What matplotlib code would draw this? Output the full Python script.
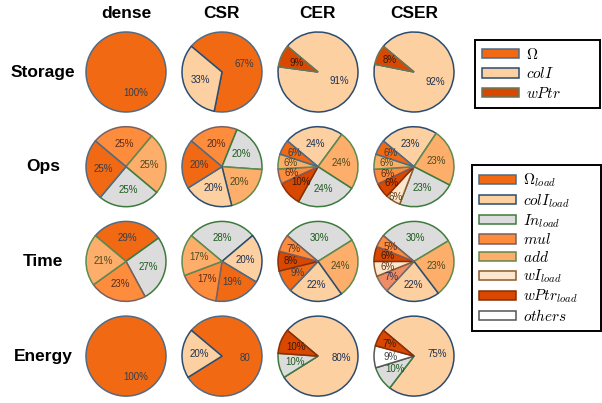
import numpy as np
import matplotlib
matplotlib.use('Agg')
import matplotlib.pyplot as plt
from matplotlib.patches import Patch

plt.rcParams['mathtext.fontset'] = 'cm'
plt.rcParams['font.family'] = ['Liberation Sans', 'DejaVu Sans']

cols = ['dense', 'CSR', 'CER', 'CSER']
rows = ['Storage', 'Ops', 'Time', 'Energy']

# slices listed clockwise from the start angle
storage_cats = {'dense': ['omega'], 'CSR': ['omega', 'colI'],
                'CER': ['colI', 'wPtr'], 'CSER': ['colI', 'wPtr']}
storage_vals = {'dense': [100], 'CSR': [67, 33], 'CER': [91, 9], 'CSER': [92, 8]}

ops_cats = {'dense': ['mul', 'add', 'In', 'omega'],
            'CSR': ['mul', 'In', 'add', 'colI', 'omega'],
            'CER': ['colI', 'add', 'In', 'wPtrL', 'mul', 'add', 'omega'],
            'CSER': ['colI', 'add', 'In', 'wI', 'wPtrL', 'mul', 'add', 'omega']}
ops_vals = {'dense': [25, 25, 25, 25],
            'CSR': [20, 20, 20, 20, 20],
            'CER': [24, 24, 24, 10, 6, 6, 6],
            'CSER': [23, 23, 23, 6, 6, 6, 6, 6]}

time_cats = {'dense': ['omega', 'In', 'mul', 'add'],
             'CSR': ['In', 'colI', 'omega', 'mul', 'add'],
             'CER': ['In', 'add', 'colI', 'omega', 'wPtrL', 'mul'],
             'CSER': ['In', 'add', 'colI', 'extra', 'wI', 'wPtrL', 'mul']}
time_vals = {'dense': [29, 27, 23, 21],
             'CSR': [28, 20, 19, 17, 17],
             'CER': [30, 24, 22, 9, 8, 7],
             'CSER': [30, 23, 22, 7, 6, 6, 5]}

energy_cats = {'dense': ['omega'], 'CSR': ['omega', 'colI'],
               'CER': ['colI', 'In', 'wPtrL'],
               'CSER': ['colI', 'In', 'others', 'wPtrL']}
energy_vals = {'dense': [100], 'CSR': [80, 20], 'CER': [80, 10, 10],
               'CSER': [75, 10, 9, 7]}
energy_text = {'CSR': ['80', '20%']}

all_cats = [storage_cats, ops_cats, time_cats, energy_cats]
all_vals = [storage_vals, ops_vals, time_vals, energy_vals]
all_text = [{}, {}, {}, energy_text]

# label radius tweaks for crowded slices (row, col) -> {slice index: radius}
label_r = {(1, 'CSER'): {3: 0.88}}

fill = {'omega': '#F16913', 'colI': '#FDD0A2', 'In': '#DCDCDC', 'mul': '#FD8D3C',
        'add': '#FDAE6B', 'wI': '#FEE6CE', 'wPtr': '#D94801', 'wPtrL': '#D94801',
        'others': '#FFFFFF', 'extra': '#F08C64'}
edge = {'omega': '#4F6B85', 'colI': '#2B4C70', 'In': '#3D7A3D', 'mul': '#7D5F5F',
        'add': '#5E8A4E', 'wI': '#8B5A2B', 'wPtr': '#66775A', 'wPtrL': '#8C2D04',
        'others': '#555555', 'extra': '#707070'}
tcol = {'omega': '#33404D', 'colI': '#1C3050', 'In': '#1E5A1E', 'mul': '#5A2A1A',
        'add': '#4A4A20', 'wI': '#5A3A10', 'wPtr': '#3A1A05', 'wPtrL': '#3A1A05',
        'others': '#444444', 'extra': '#333355'}

W, H = 602, 403
fig = plt.figure(figsize=(W / 100, H / 100), dpi=100)

x0, dx = 126, 96
y0, dy = 72, 94.7
R = 40
half = R * 1.1

for i, rname in enumerate(rows):
    cy = y0 + dy * i
    fig.text(43 / W, 1 - cy / H, rname, ha='center', va='center',
             fontsize=12.5, fontweight='bold')
    for j, cname in enumerate(cols):
        cx = x0 + dx * j
        if i == 0:
            fig.text(cx / W, 1 - 14 / H, cname, ha='center', va='center',
                     fontsize=12.5, fontweight='bold')
        cats = all_cats[i][cname]
        vals = all_vals[i][cname]
        texts = all_text[i].get(cname, ['%d%%' % v for v in vals])
        ax = fig.add_axes([(cx - half) / W, 1 - (cy + half) / H, 2 * half / W, 2 * half / H])
        wedges, _ = ax.pie(vals, colors=[fill[c] for c in cats], startangle=140,
                           counterclock=False, wedgeprops=dict(linewidth=1.1))
        for w, c in zip(wedges, cats):
            w.set_edgecolor(edge[c])
        tweaks = label_r.get((i, cname), {})
        for k, (w, c, t) in enumerate(zip(wedges, cats, texts)):
            ang = np.deg2rad((w.theta1 + w.theta2) / 2)
            if len(vals) == 1:
                ang = np.deg2rad(-65)
            r = 0.68 if (w.theta2 - w.theta1) < 30 else 0.58
            r = tweaks.get(k, r)
            ax.text(r * np.cos(ang), r * np.sin(ang), t, ha='center', va='center',
                    fontsize=7, color=tcol[c])
        ax.set_xlim(-1.1, 1.1)
        ax.set_ylim(-1.1, 1.1)
        ax.set_aspect('equal')
        ax.axis('off')

leg1_keys = ['omega', 'colI', 'wPtr']
leg1_labels = [r'$\Omega$', r'$colI$', r'$wPtr$']
leg2_keys = ['omega', 'colI', 'In', 'mul', 'add', 'wI', 'wPtrL', 'others']
leg2_labels = [r'$\Omega_{load}$', r'$colI_{load}$', r'$In_{load}$', r'$mul$',
               r'$add$', r'$wI_{load}$', r'$wPtr_{load}$', r'$others$']


def make_legend(keys, labels, left, top, width, spacing):
    handles = [Patch(facecolor=fill[k], edgecolor=edge[k], linewidth=1.1) for k in keys]
    leg = fig.legend(handles, labels, loc='upper left',
                     bbox_to_anchor=(left / W, 0, width / W, 1 - top / H),
                     mode='expand', fontsize=11, frameon=True, fancybox=False,
                     framealpha=1, edgecolor='black', handlelength=2.4,
                     handleheight=0.55, labelspacing=spacing, borderpad=0.45,
                     handletextpad=0.5, borderaxespad=0)
    leg.get_frame().set_linewidth(1.4)
    return leg


make_legend(leg1_keys, leg1_labels, 475, 40, 125, 0.3)
make_legend(leg2_keys, leg2_labels, 472, 165, 129, 0.17)

fig.savefig('out.png', dpi=100)
